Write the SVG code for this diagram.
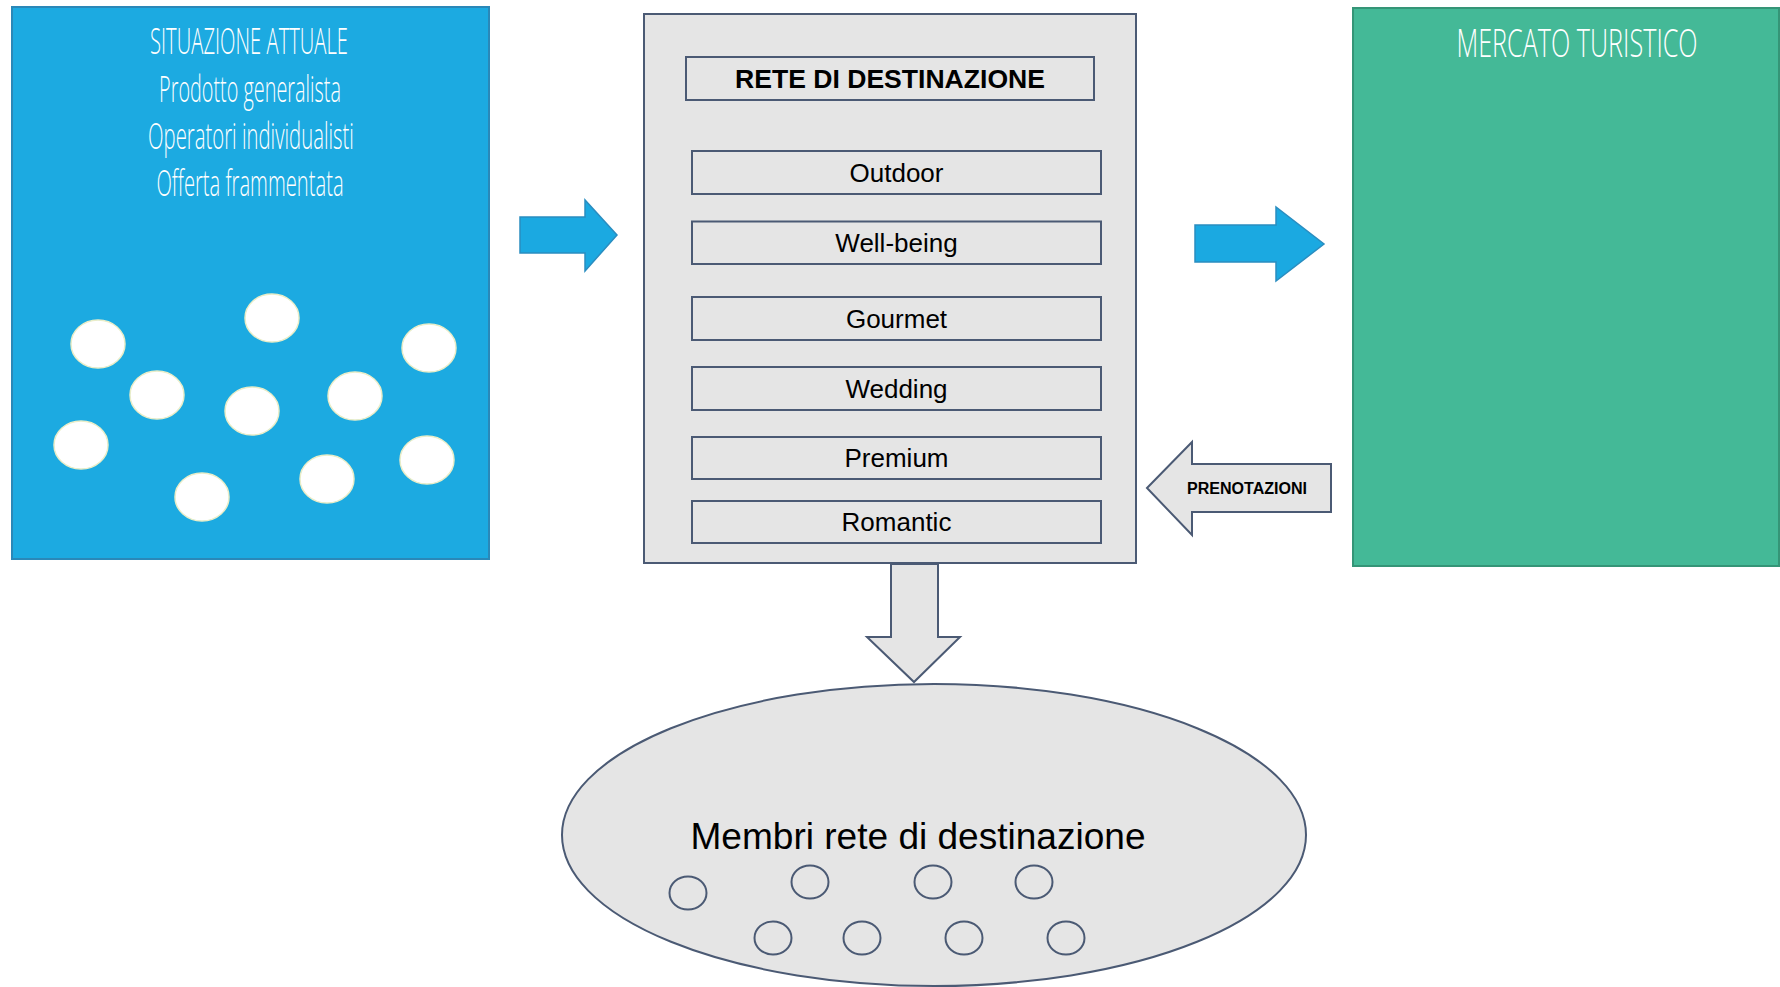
<svg xmlns="http://www.w3.org/2000/svg" width="1780" height="987" viewBox="0 0 1780 987">
  <style>
    .panel-blue { fill: #1CAAE1; stroke: #2A88B8; stroke-width: 2; }
    .panel-green { fill: #44B997; stroke: #359577; stroke-width: 2; }
    .dot { fill: #FFFFFF; stroke: #E9EDC8; stroke-width: 1.5; }
    .hand { font-family: "Liberation Sans Narrow", "Open Sans", "Liberation Sans", sans-serif; font-weight: 300; fill: #FFFFFF; text-anchor: middle; }
    .gray { fill: #E5E5E5; stroke: #4B5A74; stroke-width: 2; }
    .item { fill: #E5E5E5; stroke: #4B5A74; stroke-width: 2; }
    .label { font-family: "Liberation Sans", Arial, sans-serif; fill: #000000; text-anchor: middle; }
    .bold { font-weight: bold; }
    .member { fill: none; stroke: #4B5A74; stroke-width: 2; }
    .blue-arrow { fill: #1BA9E1; stroke: #2A8DC0; stroke-width: 1.5; }
  </style>

  <rect width="1780" height="987" fill="#FFFFFF"/>

  <g id="situazione-attuale">
    <rect class="panel-blue" x="12" y="7" width="477" height="552"/>
    <text class="hand" transform="translate(249,54) scale(0.6,1)" x="0" y="0" style="font-size:36px" textLength="330" lengthAdjust="spacingAndGlyphs">SITUAZIONE ATTUALE</text>
    <text class="hand" transform="translate(250,102) scale(0.6,1)" x="0" y="0" style="font-size:36px" textLength="303" lengthAdjust="spacingAndGlyphs">Prodotto generalista</text>
    <text class="hand" transform="translate(251,149) scale(0.6,1)" x="0" y="0" style="font-size:36px" textLength="343" lengthAdjust="spacingAndGlyphs">Operatori individualisti</text>
    <text class="hand" transform="translate(250,196) scale(0.6,1)" x="0" y="0" style="font-size:36px" textLength="312" lengthAdjust="spacingAndGlyphs">Offerta frammentata</text>
    <ellipse class="dot" cx="98" cy="344" rx="27" ry="24"/>
    <ellipse class="dot" cx="272" cy="318" rx="27" ry="24"/>
    <ellipse class="dot" cx="429" cy="348" rx="27" ry="24"/>
    <ellipse class="dot" cx="157" cy="395" rx="27" ry="24"/>
    <ellipse class="dot" cx="252" cy="411" rx="27" ry="24"/>
    <ellipse class="dot" cx="355" cy="396" rx="27" ry="24"/>
    <ellipse class="dot" cx="81" cy="445" rx="27" ry="24"/>
    <ellipse class="dot" cx="427" cy="460" rx="27" ry="24"/>
    <ellipse class="dot" cx="327" cy="479" rx="27" ry="24"/>
    <ellipse class="dot" cx="202" cy="497" rx="27" ry="24"/>
  </g>

  <g id="rete-di-destinazione">
    <rect class="gray" x="644" y="14" width="492" height="549"/>
    <rect class="item" x="686" y="57" width="408" height="43"/>
    <text class="label bold" x="890" y="88" style="font-size:26px" textLength="310" lengthAdjust="spacingAndGlyphs">RETE DI DESTINAZIONE</text>
  </g>

  <g id="outdoor">
    <rect class="item" x="692" y="151" width="409" height="43"/>
    <text class="label" x="896.5" y="181.5" style="font-size:26px">Outdoor</text>
  </g>
  <g id="well-being">
    <rect class="item" x="692" y="221.5" width="409" height="42.5"/>
    <text class="label" x="896.5" y="252" style="font-size:26px">Well-being</text>
  </g>
  <g id="gourmet">
    <rect class="item" x="692" y="297" width="409" height="43"/>
    <text class="label" x="896.5" y="327.5" style="font-size:26px">Gourmet</text>
  </g>
  <g id="wedding">
    <rect class="item" x="692" y="367" width="409" height="43"/>
    <text class="label" x="896.5" y="397.5" style="font-size:26px">Wedding</text>
  </g>
  <g id="premium">
    <rect class="item" x="692" y="437" width="409" height="42"/>
    <text class="label" x="896.5" y="467" style="font-size:26px">Premium</text>
  </g>
  <g id="romantic">
    <rect class="item" x="692" y="501" width="409" height="42"/>
    <text class="label" x="896.5" y="531" style="font-size:26px">Romantic</text>
  </g>

  <g id="mercato-turistico">
    <rect class="panel-green" x="1353" y="8" width="426" height="558"/>
    <text class="hand" transform="translate(1577,57) scale(0.6,1)" x="0" y="0" style="font-size:38px" textLength="402" lengthAdjust="spacingAndGlyphs">MERCATO TURISTICO</text>
  </g>

  <g id="membri-rete">
    <ellipse class="gray" cx="934" cy="835" rx="372" ry="151"/>
    <text class="label" x="918" y="849" style="font-size:36px" textLength="455" lengthAdjust="spacingAndGlyphs">Membri rete di destinazione</text>
    <ellipse class="member" cx="688" cy="893" rx="18.5" ry="16.5"/>
    <ellipse class="member" cx="810" cy="882" rx="18.5" ry="16.5"/>
    <ellipse class="member" cx="933" cy="882" rx="18.5" ry="16.5"/>
    <ellipse class="member" cx="1034" cy="882" rx="18.5" ry="16.5"/>
    <ellipse class="member" cx="773" cy="938" rx="18.5" ry="16.5"/>
    <ellipse class="member" cx="862" cy="938" rx="18.5" ry="16.5"/>
    <ellipse class="member" cx="964" cy="938" rx="18.5" ry="16.5"/>
    <ellipse class="member" cx="1066" cy="938" rx="18.5" ry="16.5"/>
  </g>

  <g id="connectors">
    <polygon id="arrow-situazione-rete" class="blue-arrow" points="520,217 585,217 585,200 617,235 585,271 585,253 520,253"/>
    <polygon id="arrow-rete-mercato" class="blue-arrow" points="1195,225 1276,225 1276,207 1324,244 1276,281 1276,262 1195,262"/>
    <g id="arrow-prenotazioni">
      <polygon class="gray" points="1147,488 1192,442 1192,464 1331,464 1331,512 1192,512 1192,535"/>
      <text class="label bold" x="1247" y="494" style="font-size:16px" textLength="120" lengthAdjust="spacingAndGlyphs">PRENOTAZIONI</text>
    </g>
    <polygon id="arrow-rete-membri" class="gray" points="891,564 938,564 938,637 960,637 914,682 867,637 891,637"/>
  </g>
</svg>
